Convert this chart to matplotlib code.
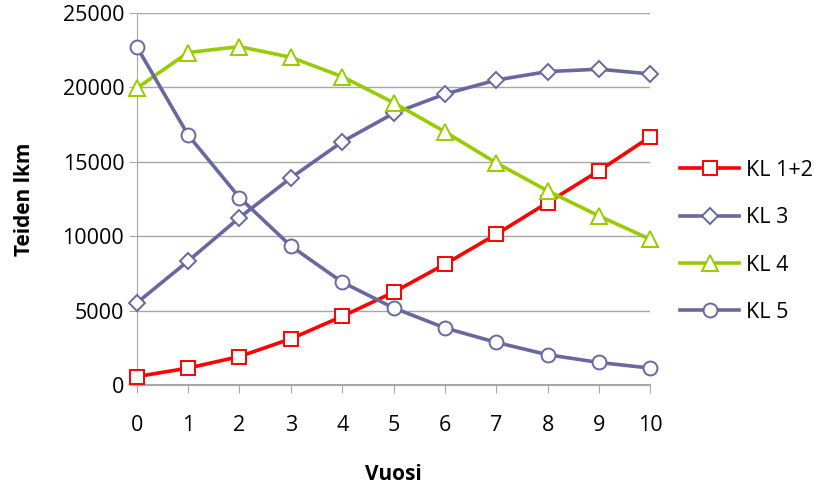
import matplotlib.pyplot as plt
from matplotlib.ticker import MultipleLocator

# road length (km) by condition class over ten years
years = list(range(11))
kl12 = [560, 1130, 1910, 3100, 4610, 6230, 8120, 10130, 12260, 14400, 16690]
kl3 = [5510, 8330, 11250, 13920, 16350, 18260, 19560, 20500, 21070, 21230, 20910]
kl4 = [19950, 22350, 22750, 22030, 20730, 18980, 17020, 14930, 13050, 11360, 9790]
kl5 = [22750, 16800, 12600, 9340, 6910, 5180, 3830, 2860, 2030, 1510, 1130]

series_names = ['KL 1+2', 'KL 3', 'KL 4', 'KL 5']

plt.rcParams['font.family'] = ['Open Sans', 'DejaVu Sans']

fig = plt.figure(figsize=(8.14, 4.86), dpi=100)
ax = fig.add_axes([0.168, 0.208, 0.631, 0.765])

purple = '#6868A0'
styles = [
    (kl12, 'red', 's'),
    (kl3, purple, 'D'),
    (kl4, '#99CC00', '^'),
    (kl5, purple, 'o'),
]
sizes = {'s': 10, 'D': 8, '^': 11, 'o': 10}
for (vals, col, mk), name in zip(styles, series_names):
    ax.plot(years, vals, color=col, lw=2.6, marker=mk, ms=sizes[mk],
            mfc='white', mec=col, mew=1.4, label=name, clip_on=False, zorder=3)

ax.set_xlim(0, 10)
ax.set_ylim(0, 25000)
ax.yaxis.set_major_locator(MultipleLocator(5000))
ax.xaxis.set_major_locator(MultipleLocator(1))
ax.grid(axis='y', color='#A6A6A6', lw=1)
ax.set_axisbelow(True)
for side in ['top', 'right']:
    ax.spines[side].set_visible(False)
ax.spines['left'].set_color('#A6A6A6')
ax.spines['bottom'].set_color('#A6A6A6')
ax.spines['bottom'].set_linewidth(1.5)
ax.tick_params(axis='both', colors='#A6A6A6', labelcolor='black',
               labelsize=15.5, length=6, direction='out')
ax.tick_params(axis='x', pad=16)
ax.tick_params(axis='y', pad=3)

ax.set_xlabel('Vuosi', fontsize=15, fontweight='bold', labelpad=20)
ax.set_ylabel('Teiden lkm', fontsize=15, fontweight='bold', labelpad=20)

ax.legend(loc='center left', bbox_to_anchor=(1.058, 0.386), frameon=False,
          fontsize=15.5, handlelength=2.75, labelspacing=1.22, handletextpad=0.3,
          borderpad=0, borderaxespad=0)

fig.savefig('out.png', dpi=100)
